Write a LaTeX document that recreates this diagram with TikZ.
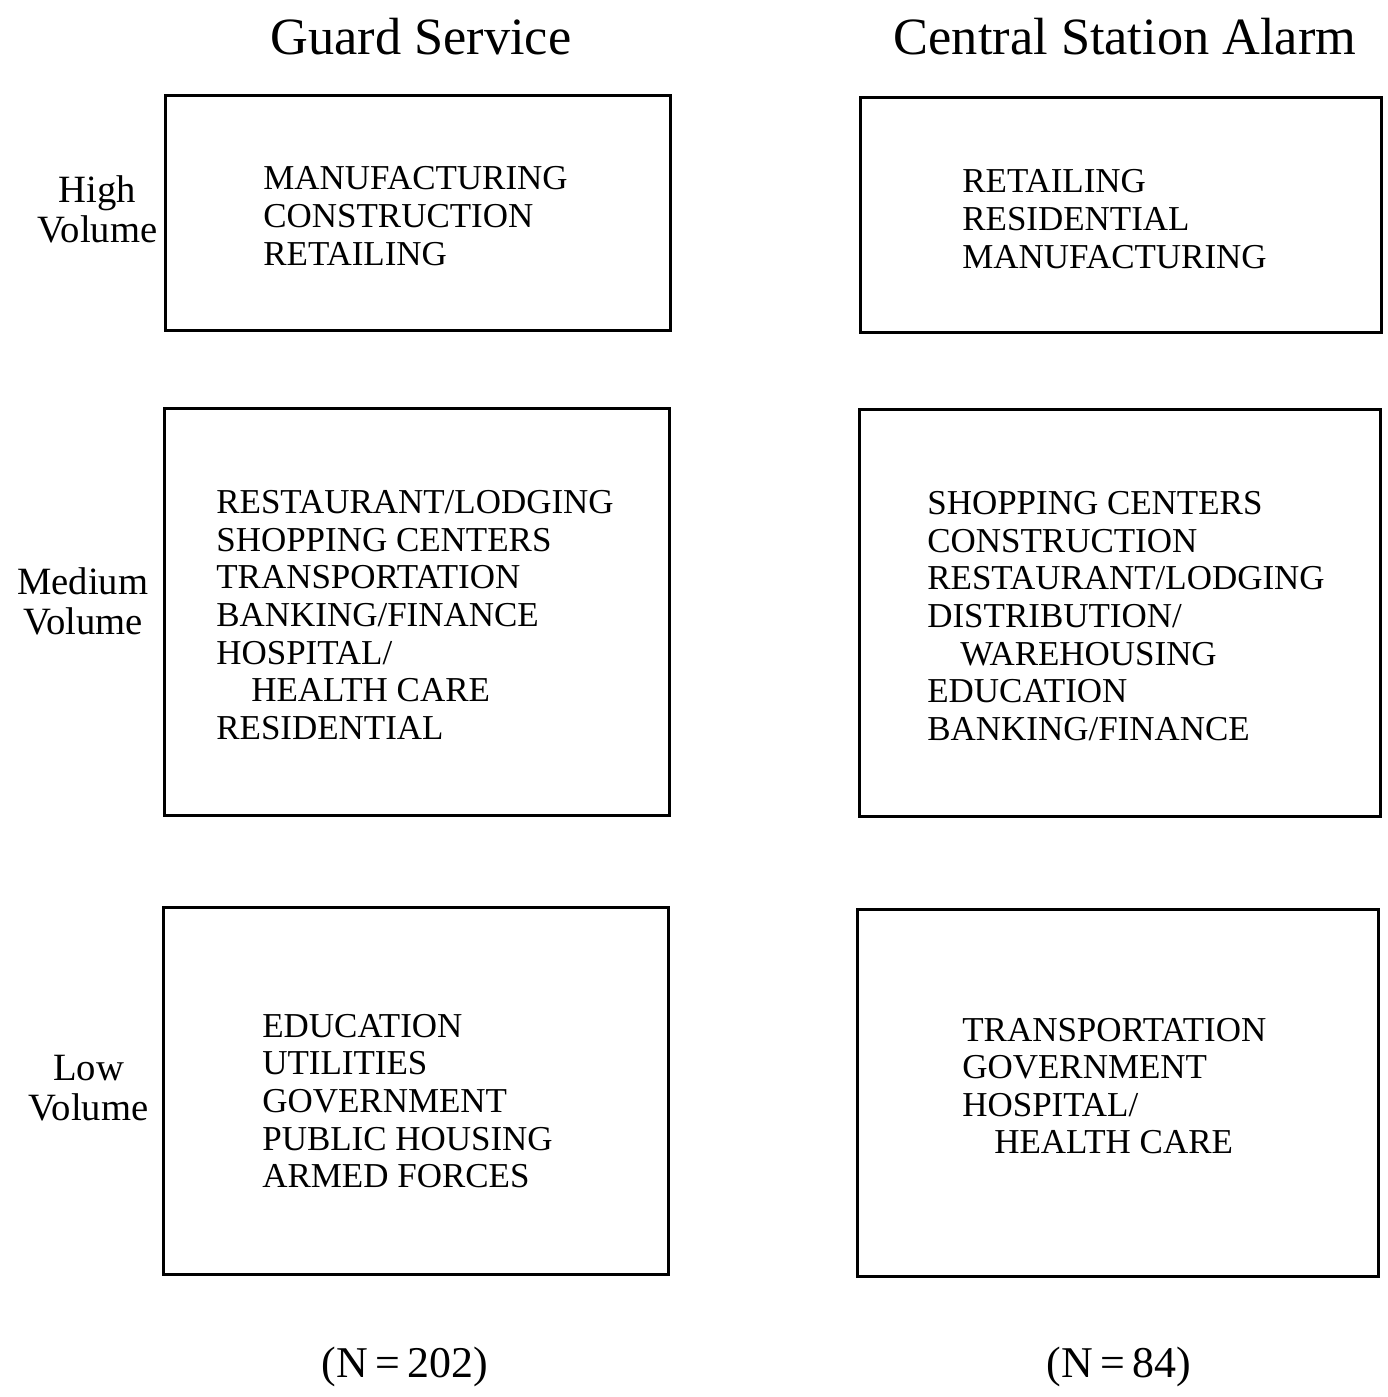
\documentclass[tikz,border=0pt]{standalone}
\usepackage{fontspec}
\setmainfont{Liberation Serif}
\usetikzlibrary{positioning}
\tikzstyle{category} = [rectangle, draw, line width=1.7pt]
\tikzstyle{entries} = [align=left, anchor=west, inner sep=0pt,
    font=\fontsize{19.9}{21.4}\selectfont]
\tikzstyle{heading} = [font=\fontsize{29.8}{33}\selectfont]
\tikzstyle{volume} = [align=center, font=\fontsize{22}{22.8}\selectfont]

\begin{document}
\begin{tikzpicture}[x=0.02cm, y=-0.02cm,
    gsWidth/.style={minimum width=10.12cm},
    csaWidth/.style={minimum width=10.44cm},
    highHeight/.style={minimum height=4.72cm},
    mediumHeight/.style={minimum height=8.16cm},
    lowHeight/.style={minimum height=7.34cm},
    count/.style={font=\fontsize{25}{28}\selectfont}
    ]
    \useasboundingbox (0,0) rectangle (1387,1397);

    % column headings
    \node[heading, anchor=base] (gsTitle) at (421,54) {Guard Service};
    \node[heading, anchor=base] (csaTitle) at (1125,54) {Central Station Alarm};

    % guard service column
    \node[category, gsWidth, highHeight] (gsHigh) at (418,213) {};
    \node[category, gsWidth, mediumHeight] (gsMedium) at (417,612) {};
    \node[category, gsWidth, lowHeight] (gsLow) at (416,1091) {};
    \node[entries] (gsHighList) at (263,216)
        {MANUFACTURING\\CONSTRUCTION\\RETAILING};
    \node[entries] (gsMediumList) at (216,615)
        {RESTAURANT/LODGING\\SHOPPING CENTERS\\TRANSPORTATION\\BANKING/FINANCE\\
         HOSPITAL/\\\hspace*{0.7cm}HEALTH CARE\\RESIDENTIAL};
    \node[entries] (gsLowList) at (262,1101)
        {EDUCATION\\UTILITIES\\GOVERNMENT\\PUBLIC HOUSING\\ARMED FORCES};

    % central station alarm column
    \node[category, csaWidth, highHeight] (csaHigh) at (1121,215) {};
    \node[category, csaWidth, mediumHeight] (csaMedium) at (1120,613) {};
    \node[category, csaWidth, lowHeight] (csaLow) at (1118,1093) {};
    \node[entries] (csaHighList) at (962,219)
        {RETAILING\\RESIDENTIAL\\MANUFACTURING};
    \node[entries] (csaMediumList) at (927,616)
        {SHOPPING CENTERS\\CONSTRUCTION\\RESTAURANT/LODGING\\DISTRIBUTION/\\
         \hspace*{0.66cm}WAREHOUSING\\EDUCATION\\BANKING/FINANCE};
    \node[entries] (csaLowList) at (962,1086)
        {TRANSPORTATION\\GOVERNMENT\\HOSPITAL/\\\hspace*{0.64cm}HEALTH CARE};

    % row labels
    \node[volume, left=0cm of gsHigh, yshift=0.08cm] (high) {High\\Volume};
    \node[volume, left=0.16cm of gsMedium, yshift=0.22cm] (medium) {Medium\\Volume};
    \node[volume, left=0.14cm of gsLow, yshift=0.06cm] (low) {Low\\Volume};

    % sample sizes
    \node[count, anchor=base] (gsCount) at (405,1377) {(N\,=\,202)};
    \node[count, anchor=base] (csaCount) at (1119,1377) {(N\,=\,84)};
\end{tikzpicture}
\end{document}
